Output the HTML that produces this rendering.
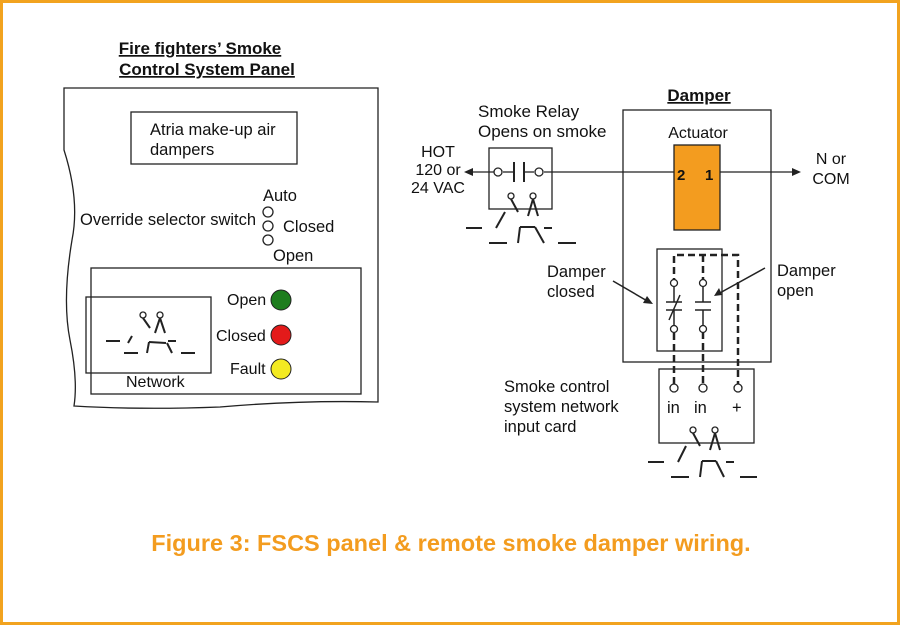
<!DOCTYPE html>
<html><head><meta charset="utf-8"><style>
html,body{margin:0;padding:0;background:#fff}
svg{display:block}
text{font-family:"Liberation Sans",sans-serif;fill:#111}
</style></head><body>
<svg width="900" height="625" viewBox="0 0 900 625" xmlns="http://www.w3.org/2000/svg">
<rect x="1.5" y="1.5" width="897" height="622" fill="#fff" stroke="#f2a31f" stroke-width="3"/>
<g fill="none" stroke="#222" stroke-width="1.3">
<path d="M64,88 L378,88 L378,402 Q300,400 220,407 Q140,410 74,406 Q78,380 70,340 Q62,300 72,240 Q80,200 64,150 Z"/>
<rect x="131" y="112" width="166" height="52"/>
<circle cx="268" cy="212" r="5"/><circle cx="268" cy="226" r="5"/><circle cx="268" cy="240" r="5"/>
<rect x="91" y="268" width="270" height="126"/>
<rect x="86" y="297" width="125" height="76"/>
</g>
<g stroke="#222" stroke-width="2" fill="none">
<line x1="106" y1="341" x2="120" y2="341"/><line x1="124" y1="353" x2="138" y2="353"/>
<line x1="132" y1="336" x2="128" y2="343"/>
<line x1="149" y1="342" x2="147" y2="353"/><line x1="149" y1="342" x2="166" y2="343"/>
<line x1="167" y1="343" x2="172" y2="353"/><line x1="168" y1="341" x2="176" y2="341"/>
<line x1="181" y1="353" x2="195" y2="353"/>
<circle cx="143" cy="315" r="3" stroke-width="1.3"/><circle cx="160" cy="315" r="3" stroke-width="1.3"/>
<line x1="143" y1="318" x2="150" y2="328"/><line x1="160" y1="318" x2="155" y2="333"/><line x1="160" y1="318" x2="165" y2="333"/>
</g>
<circle cx="281" cy="300" r="10" fill="#1e7d1e" stroke="#222"/>
<circle cx="281" cy="335" r="10" fill="#e31a1a" stroke="#222"/>
<circle cx="281" cy="369" r="10" fill="#f3ea22" stroke="#222"/>
<text x="200" y="54" font-size="17" font-weight="bold" text-anchor="middle" text-decoration="underline">Fire fighters’ Smoke</text>
<text x="207" y="75" font-size="17" font-weight="bold" text-anchor="middle" text-decoration="underline">Control System Panel</text>
<text x="150" y="135" font-size="16.5">Atria make-up air</text>
<text x="150" y="155" font-size="16.5">dampers</text>
<text x="263" y="201" font-size="16.5">Auto</text>
<text x="80" y="225" font-size="16.5">Override selector switch</text>
<text x="283" y="232" font-size="16.5">Closed</text>
<text x="273" y="261" font-size="16.5">Open</text>
<text x="227" y="305" font-size="16">Open</text>
<text x="216" y="341" font-size="16">Closed</text>
<text x="230" y="374" font-size="16">Fault</text>
<text x="126" y="387" font-size="16">Network</text>
<g fill="none" stroke="#222" stroke-width="1.3">
<rect x="489" y="148" width="63" height="61"/>
<rect x="623" y="110" width="148" height="252"/>
<rect x="657" y="249" width="65" height="102"/>
<rect x="659" y="369" width="95" height="74"/>
<line x1="472" y1="172" x2="494" y2="172"/><line x1="503" y1="172" x2="514" y2="172"/>
<line x1="524" y1="172" x2="534" y2="172"/><line x1="544" y1="172" x2="674" y2="172"/>
<line x1="720" y1="172" x2="795" y2="172"/>
<circle cx="498" cy="172" r="4"/><circle cx="539" cy="172" r="4"/>
<line x1="514" y1="162" x2="514" y2="182" stroke-width="2"/><line x1="524" y1="162" x2="524" y2="182" stroke-width="2"/>
</g>
<polygon points="464,172 473,168 473,176" fill="#222"/>
<polygon points="801,172 792,168 792,176" fill="#222"/>
<rect x="674" y="145" width="46" height="85" fill="#f39c1f" stroke="#222" stroke-width="1.3"/>
<text x="677" y="180" font-size="15" font-weight="bold">2</text>
<text x="705" y="180" font-size="15" font-weight="bold">1</text>
<g stroke="#222" stroke-width="2" fill="none">
<circle cx="511" cy="196" r="3" stroke-width="1.3"/><circle cx="533" cy="196" r="3" stroke-width="1.3"/>
<line x1="511" y1="199" x2="518" y2="212"/><line x1="533" y1="199" x2="528" y2="216"/><line x1="533" y1="199" x2="538" y2="216"/>
<line x1="466" y1="228" x2="482" y2="228"/><line x1="505" y1="212" x2="496" y2="228"/>
<line x1="489" y1="243" x2="507" y2="243"/><line x1="520" y1="227" x2="518" y2="243"/>
<line x1="520" y1="227" x2="535" y2="227"/><line x1="535" y1="227" x2="544" y2="243"/>
<line x1="544" y1="228" x2="552" y2="228"/><line x1="558" y1="243" x2="576" y2="243"/>
</g>
<g stroke="#222" stroke-width="2" fill="none">
<circle cx="693" cy="430" r="3" stroke-width="1.3"/><circle cx="715" cy="430" r="3" stroke-width="1.3"/>
<line x1="693" y1="433" x2="700" y2="446"/><line x1="715" y1="433" x2="710" y2="450"/><line x1="715" y1="433" x2="720" y2="450"/>
<line x1="648" y1="462" x2="664" y2="462"/><line x1="686" y1="446" x2="678" y2="462"/>
<line x1="671" y1="477" x2="689" y2="477"/><line x1="702" y1="461" x2="700" y2="477"/>
<line x1="702" y1="461" x2="716" y2="461"/><line x1="716" y1="461" x2="724" y2="477"/>
<line x1="726" y1="462" x2="734" y2="462"/><line x1="740" y1="477" x2="757" y2="477"/>
</g>
<g stroke="#222" stroke-width="2.5" fill="none" stroke-dasharray="7,4">
<polyline points="674,384 674,255 738,255 738,384"/>
<line x1="703" y1="255" x2="703" y2="384"/>
</g>
<g fill="#fff" stroke="#222" stroke-width="1.3">
<circle cx="674" cy="283" r="3.5"/><circle cx="703" cy="283" r="3.5"/>
<circle cx="674" cy="329" r="3.5"/><circle cx="703" cy="329" r="3.5"/>
<circle cx="674" cy="388" r="4"/><circle cx="703" cy="388" r="4"/><circle cx="738" cy="388" r="4"/>
</g>
<g stroke="#222" stroke-width="1.5">
<rect x="664" y="287" width="20" height="38" fill="#fff" stroke="none"/>
<rect x="693" y="287" width="20" height="38" fill="#fff" stroke="none"/>
<line x1="674" y1="287" x2="674" y2="302"/><line x1="674" y1="310" x2="674" y2="325"/>
<line x1="666" y1="302" x2="682" y2="302"/><line x1="666" y1="310" x2="682" y2="310"/>
<line x1="669" y1="320" x2="680" y2="295"/>
<line x1="703" y1="287" x2="703" y2="302"/><line x1="703" y1="310" x2="703" y2="325"/>
<line x1="695" y1="302" x2="711" y2="302"/><line x1="695" y1="310" x2="711" y2="310"/>
<line x1="613" y1="281" x2="649" y2="302"/>
<line x1="765" y1="268" x2="718" y2="294"/>
</g>
<polygon points="653,304 643,303 647,296" fill="#222"/>
<polygon points="714,296 719,288 722,295" fill="#222"/>
<text x="699" y="101" font-size="17" font-weight="bold" text-anchor="middle" text-decoration="underline">Damper</text>
<text x="478" y="117" font-size="17">Smoke Relay</text>
<text x="478" y="137" font-size="17">Opens on smoke</text>
<text x="698" y="138" font-size="16" text-anchor="middle">Actuator</text>
<text x="438" y="157" font-size="16" text-anchor="middle">HOT</text>
<text x="438" y="175" font-size="16" text-anchor="middle">120 or</text>
<text x="438" y="193" font-size="16" text-anchor="middle">24 VAC</text>
<text x="831" y="164" font-size="16" text-anchor="middle">N or</text>
<text x="831" y="184" font-size="16" text-anchor="middle">COM</text>
<text x="547" y="277" font-size="16.5">Damper</text>
<text x="547" y="297" font-size="16.5">closed</text>
<text x="777" y="276" font-size="16.5">Damper</text>
<text x="777" y="296" font-size="16.5">open</text>
<text x="504" y="392" font-size="16.5">Smoke control</text>
<text x="504" y="412" font-size="16.5">system network</text>
<text x="504" y="432" font-size="16.5">input card</text>
<text x="667" y="413" font-size="16.5">in</text>
<text x="694" y="413" font-size="16.5">in</text>
<text x="732" y="413" font-size="16.5">+</text>
<text x="451" y="551" font-size="23.5" font-weight="bold" text-anchor="middle" style="fill:#f39c1f">Figure 3: FSCS panel &amp; remote smoke damper wiring.</text>
</svg>
</body></html>
